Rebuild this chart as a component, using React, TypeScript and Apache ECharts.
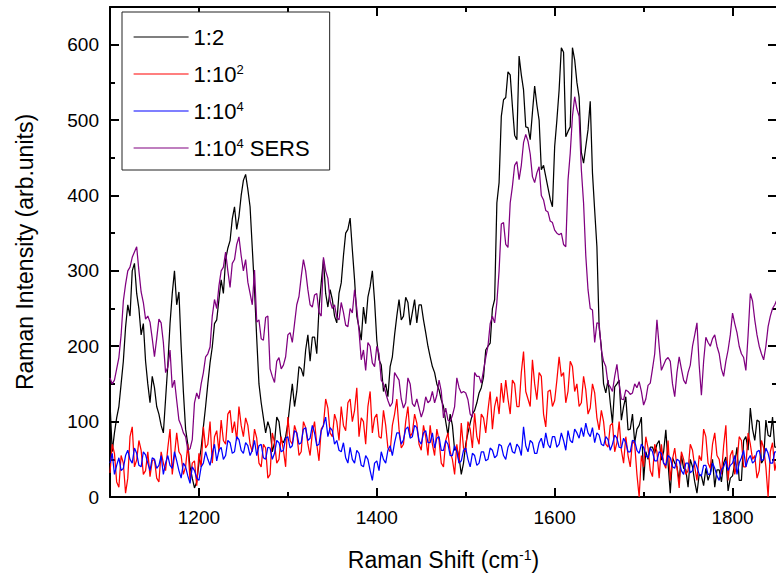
import React, { useEffect, useRef } from "react";
import * as echarts from "echarts";

// Raman shift grid (cm^-1): first point and spacing of the sampled spectra
const SHIFT_START = 1100;
const SHIFT_STEP = 2.5;

// 1:2
const ratio1to2 = [
  125, 60, 85, 105, 120, 150, 180, 225, 255, 240, 300, 310, 270, 250, 215, 230, 180, 150, 125, 160,
  145, 120, 110, 95, 85, 130, 175, 230, 270, 300, 255, 272, 200, 140, 90, 70, 40, 25, 12, 20,
  45, 65, 93, 120, 150, 178, 199, 230, 235, 262, 288, 270, 315, 330, 340, 369, 385, 355, 372, 400,
  420, 428, 408, 385, 330, 275, 210, 150, 125, 105, 85, 100, 90, 60, 72, 106, 100, 75, 72, 80,
  98, 125, 150, 120, 140, 173, 170, 160, 195, 215, 180, 212, 212, 190, 250, 284, 315, 270, 252, 275,
  262, 240, 231, 270, 284, 320, 350, 355, 370, 328, 288, 240, 225, 208, 252, 230, 265, 279, 300, 260,
  208, 182, 175, 140, 150, 133, 173, 186, 215, 240, 262, 235, 240, 265, 258, 228, 245, 262, 231, 255,
  255, 235, 218, 200, 186, 173, 165, 150, 142, 129, 120, 100, 82, 110, 95, 62, 65, 53, 30, 45,
  70, 85, 98, 110, 115, 125, 138, 145, 159, 195, 200, 204, 250, 262, 390, 417, 505, 527, 530, 564,
  560, 518, 480, 474, 585, 560, 540, 491, 490, 474, 510, 545, 520, 500, 434, 440, 425, 410, 395, 385,
  465, 500, 540, 596, 590, 478, 485, 491, 596, 580, 550, 530, 457, 443, 465, 487, 525, 430, 380, 332,
  225, 199, 150, 138, 155, 125, 98, 146, 150, 155, 102, 120, 133, 89, 90, 110, 72, 90, 95, 106,
  22, 60, 50, 66, 66, 58, 70, 75, 49, 60, 89, 45, 5, 52, 45, 40, 22, 55, 38, 36,
  13, 50, 40, 20, 5, 30, 28, 15, 38, 22, 32, 50, 13, 36, 36, 20, 45, 53, 8, 25,
  28, 45, 66, 22, 22, 75, 80, 62, 118, 90, 75, 102, 100, 45, 50, 102, 82, 80, 106, 66,
  66,
];

// 1:10^2
const ratio1to1e2 = [
  32, 70, 58, 20, 13, 55, 45, 5, 25, 80, 93, 40, 49, 75, 62, 30, 35, 60, 27, 48,
  50, 25, 20, 60, 45, 35, 65, 90, 30, 55, 85, 60, 55, 30, 40, 70, 22, 45, 48, 15,
  58, 40, 93, 65, 70, 100, 45, 80, 88, 60, 102, 75, 70, 110, 115, 85, 100, 75, 120, 95,
  80, 105, 95, 70, 60, 90, 78, 45, 40, 70, 65, 25, 30, 85, 72, 45, 50, 80, 62, 40,
  106, 75, 70, 95, 85, 55, 60, 100, 92, 70, 55, 85, 100, 70, 48, 90, 95, 130, 118, 85,
  80, 110, 100, 75, 120, 95, 88, 125, 130, 100, 115, 145, 80, 105, 100, 70, 120, 140, 85, 105,
  110, 80, 78, 115, 95, 65, 60, 95, 110, 130, 90, 65, 70, 100, 120, 80, 85, 110, 98, 70,
  62, 95, 80, 55, 95, 70, 55, 90, 75, 45, 40, 75, 85, 60, 50, 30, 70, 45, 98, 65,
  60, 100, 90, 65, 111, 80, 70, 110, 105, 85, 115, 140, 90, 120, 133, 110, 151, 125, 155, 130,
  110, 155, 150, 120, 120, 165, 193, 140, 130, 120, 182, 150, 129, 165, 160, 110, 93, 140, 142, 120,
  128, 155, 186, 160, 165, 125, 140, 180, 173, 140, 150, 120, 125, 160, 142, 110, 118, 150, 138, 105,
  89, 115, 100, 70, 66, 95, 98, 60, 72, 100, 62, 45, 80, 55, 40, 75, 70, 30, 0, 55,
  40, 80, 65, 35, 27, 70, 60, 25, 70, 45, 38, 75, 22, 50, 65, 40, 12, 60, 50, 30,
  35, 70, 62, 40, 22, 55, 48, 90, 80, 45, 38, 70, 85, 55, 50, 30, 68, 95, 22, 55,
  62, 30, 45, 80, 75, 40, 40, 85, 70, 50, 55, 25, 35, 75, 65, 40, 0, 60, 72, 35,
  50,
];

// 1:10^4
const ratio1to1e4 = [
  45, 58, 30, 42, 52, 35, 38, 55, 62, 50, 45, 65, 58, 42, 40, 60, 56, 45, 35, 52,
  50, 38, 42, 55, 30, 45, 55, 42, 38, 60, 48, 35, 25, 45, 40, 28, 18, 40, 35, 25,
  22, 40, 45, 60, 50, 42, 58, 70, 48, 62, 66, 50, 55, 75, 72, 58, 60, 80, 76, 62,
  58, 72, 68, 55, 62, 75, 55, 68, 70, 52, 50, 66, 65, 50, 58, 75, 72, 60, 62, 78,
  80, 65, 68, 88, 85, 70, 72, 90, 92, 75, 78, 95, 85, 68, 70, 88, 95, 106, 80, 92,
  88, 70, 75, 62, 60, 72, 52, 45, 66, 50, 45, 62, 58, 42, 40, 55, 50, 35, 22, 45,
  48, 35, 60, 50, 45, 62, 68, 55, 72, 85, 85, 70, 76, 90, 93, 78, 80, 95, 92, 75,
  70, 85, 88, 72, 72, 85, 65, 78, 80, 62, 62, 75, 70, 55, 55, 68, 60, 45, 48, 62,
  65, 50, 40, 58, 55, 42, 45, 60, 60, 48, 50, 65, 62, 52, 55, 70, 68, 55, 50, 66,
  72, 60, 58, 70, 66, 55, 93, 68, 60, 75, 72, 58, 58, 72, 78, 65, 85, 70, 65, 80,
  80, 66, 70, 85, 75, 62, 88, 75, 72, 90, 85, 78, 92, 80, 98, 85, 80, 92, 72, 85,
  82, 70, 68, 80, 76, 62, 70, 82, 78, 66, 65, 78, 72, 60, 60, 75, 74, 62, 58, 70,
  66, 55, 52, 65, 60, 48, 48, 60, 58, 45, 42, 55, 52, 40, 38, 50, 48, 35, 30, 45,
  45, 32, 35, 48, 40, 30, 28, 42, 42, 30, 30, 45, 38, 28, 22, 36, 40, 48, 35, 42,
  45, 55, 30, 45, 52, 62, 40, 50, 55, 45, 48, 60, 62, 48, 50, 65, 58, 45, 45, 60,
  60,
];

// 1:10^4 SERS
const ratio1to1e4Sers = [
  158, 150, 155, 170, 185, 215, 260, 282, 300, 305, 318, 325, 332, 300, 272, 258, 236, 240, 232, 210,
  186, 210, 236, 231, 205, 165, 172, 195, 145, 155, 128, 102, 95, 85, 80, 62, 64, 76, 125, 138,
  130, 150, 165, 186, 190, 199, 240, 262, 250, 280, 300, 305, 325, 300, 278, 310, 315, 335, 345, 320,
  300, 315, 285, 270, 255, 301, 232, 235, 210, 208, 238, 240, 170, 160, 152, 180, 185, 170, 175, 186,
  215, 218, 205, 230, 255, 266, 292, 315, 300, 275, 255, 252, 268, 270, 245, 240, 318, 300, 290, 260,
  250, 255, 238, 235, 258, 245, 228, 226, 250, 244, 275, 250, 220, 182, 195, 168, 205, 200, 178, 173,
  200, 190, 155, 150, 138, 128, 120, 125, 165, 160, 155, 130, 118, 125, 158, 150, 124, 120, 130, 118,
  106, 115, 133, 125, 128, 140, 125, 135, 155, 140, 105, 118, 102, 100, 108, 120, 158, 145, 138, 140,
  138, 129, 110, 106, 165, 160, 160, 151, 168, 185, 200, 230, 240, 231, 258, 300, 362, 364, 335, 331,
  390, 412, 440, 445, 421, 440, 470, 481, 472, 455, 425, 417, 430, 438, 400, 394, 380, 378, 366, 364,
  354, 350, 348, 350, 335, 332, 420, 456, 505, 531, 515, 505, 434, 390, 320, 275, 250, 248, 205, 231,
  230, 195, 180, 173, 150, 146, 140, 160, 176, 150, 130, 129, 142, 140, 136, 138, 150, 145, 153, 140,
  122, 130, 148, 151, 170, 190, 235, 200, 168, 175, 182, 185, 180, 150, 133, 165, 186, 170, 155, 150,
  165, 175, 200, 215, 231, 175, 135, 180, 212, 205, 200, 210, 215, 200, 190, 170, 160, 180, 195, 215,
  244, 230, 218, 200, 190, 185, 168, 215, 270, 260, 235, 215, 200, 190, 182, 200, 226, 240, 250, 255,
  262,
];

const seriesNames = ["1:2", "1:10^2", "1:10^4", "1:10^4 SERS"];
const seriesValues = [ratio1to2, ratio1to1e2, ratio1to1e4, ratio1to1e4Sers];
const seriesColors = ["#000000", "#ff0000", "#0000ff", "#800080"];

const xMajorTicks = [1200, 1400, 1600, 1800];
const xMinorTicks = [1300, 1500, 1700];
const yMajorTicks = [0, 100, 200, 300, 400, 500, 600];
const yMinorTicks = [50, 150, 250, 350, 450, 550];

const X_MIN = 1100;
const X_MAX = 1850;
const Y_MIN = 0;
const Y_MAX = 650;

const FONT = "'Liberation Sans', Arial, Helvetica, sans-serif";
const AXIS_STYLE = { color: "#000", width: 2 };

function toRich(name: string): string {
  return name.replace(/\^(\d+)/g, "{sup|$1}");
}

function axisDef(
  kind: "x" | "y",
  position: string,
  ticks: number[],
  len: number,
  main: boolean,
  withLabels: boolean
) {
  return {
    type: "value",
    gridIndex: 0,
    position,
    min: kind === "x" ? X_MIN : Y_MIN,
    max: kind === "x" ? X_MAX : Y_MAX,
    axisLine: { show: main, onZero: false, lineStyle: AXIS_STYLE },
    axisTick: { show: true, inside: true, length: len, lineStyle: AXIS_STYLE, customValues: ticks },
    axisLabel: withLabels
      ? {
          show: true,
          customValues: ticks,
          fontSize: 19,
          color: "#000",
          fontFamily: FONT,
          margin: 11,
          formatter: (v: number) => String(v),
        }
      : { show: false },
    splitLine: { show: false },
  };
}

export default function App() {
  const ref = useRef<HTMLDivElement>(null);

  useEffect(() => {
    if (!ref.current) return;
    const chart = echarts.init(ref.current, null, { renderer: "svg" });

    const xBottom: any = axisDef("x", "bottom", xMajorTicks, 9, true, true);
    xBottom.name = "Raman Shift (cm{sup|-1})";
    xBottom.nameLocation = "middle";
    xBottom.nameGap = 51;
    xBottom.nameTextStyle = {
      fontSize: 23,
      color: "#000",
      fontFamily: FONT,
      rich: { sup: { fontSize: 14, color: "#000", fontFamily: FONT, verticalAlign: "top" } },
    };

    const yLeft: any = axisDef("y", "left", yMajorTicks, 9, true, true);
    yLeft.name = "Raman Intensity (arb.units)";
    yLeft.nameLocation = "middle";
    yLeft.nameRotate = 90;
    yLeft.nameGap = 74;
    yLeft.nameTextStyle = { fontSize: 23, color: "#000", fontFamily: FONT };

    const option: any = {
      animation: false,
      backgroundColor: "#fff",
      grid: { left: 110, right: -1, top: 7, bottom: 79, containLabel: false, outerBoundsMode: "none" },
      xAxis: [
        xBottom,
        axisDef("x", "bottom", xMinorTicks, 5, false, false),
        axisDef("x", "top", xMajorTicks, 9, true, false),
        axisDef("x", "top", xMinorTicks, 5, false, false),
      ],
      yAxis: [
        yLeft,
        axisDef("y", "left", yMinorTicks, 5, false, false),
        axisDef("y", "right", yMajorTicks, 9, true, false),
        axisDef("y", "right", yMinorTicks, 5, false, false),
      ],
      legend: {
        orient: "vertical",
        left: 122,
        top: 12,
        padding: [14, 20, 11, 11],
        itemWidth: 55,
        itemHeight: 20,
        itemGap: 15,
        borderColor: "#222",
        borderWidth: 1,
        backgroundColor: "#fff",
        selectedMode: false,
        itemStyle: { opacity: 0, borderWidth: 0 },
        lineStyle: { width: 1.2 },
        data: seriesNames,
        formatter: (name: string) => toRich(name),
        textStyle: {
          fontSize: 22,
          color: "#000",
          fontFamily: FONT,
          rich: { sup: { fontSize: 13, color: "#000", fontFamily: FONT, verticalAlign: "top" } },
        },
      },
      series: seriesNames.map((name, k) => ({
        name,
        type: "line",
        xAxisIndex: 0,
        yAxisIndex: 0,
        symbol: "none",
        showSymbol: false,
        animation: false,
        lineStyle: { color: seriesColors[k], width: 1.25 },
        itemStyle: { color: seriesColors[k] },
        data: seriesValues[k].map((v, i) => [SHIFT_START + i * SHIFT_STEP, v]),
      })),
    };

    chart.setOption(option);
    return () => chart.dispose();
  }, []);

  return (
    <div
      ref={ref}
      style={{ position: "fixed", left: 0, top: 0, width: 776, height: 576, background: "#fff" }}
    />
  );
}
